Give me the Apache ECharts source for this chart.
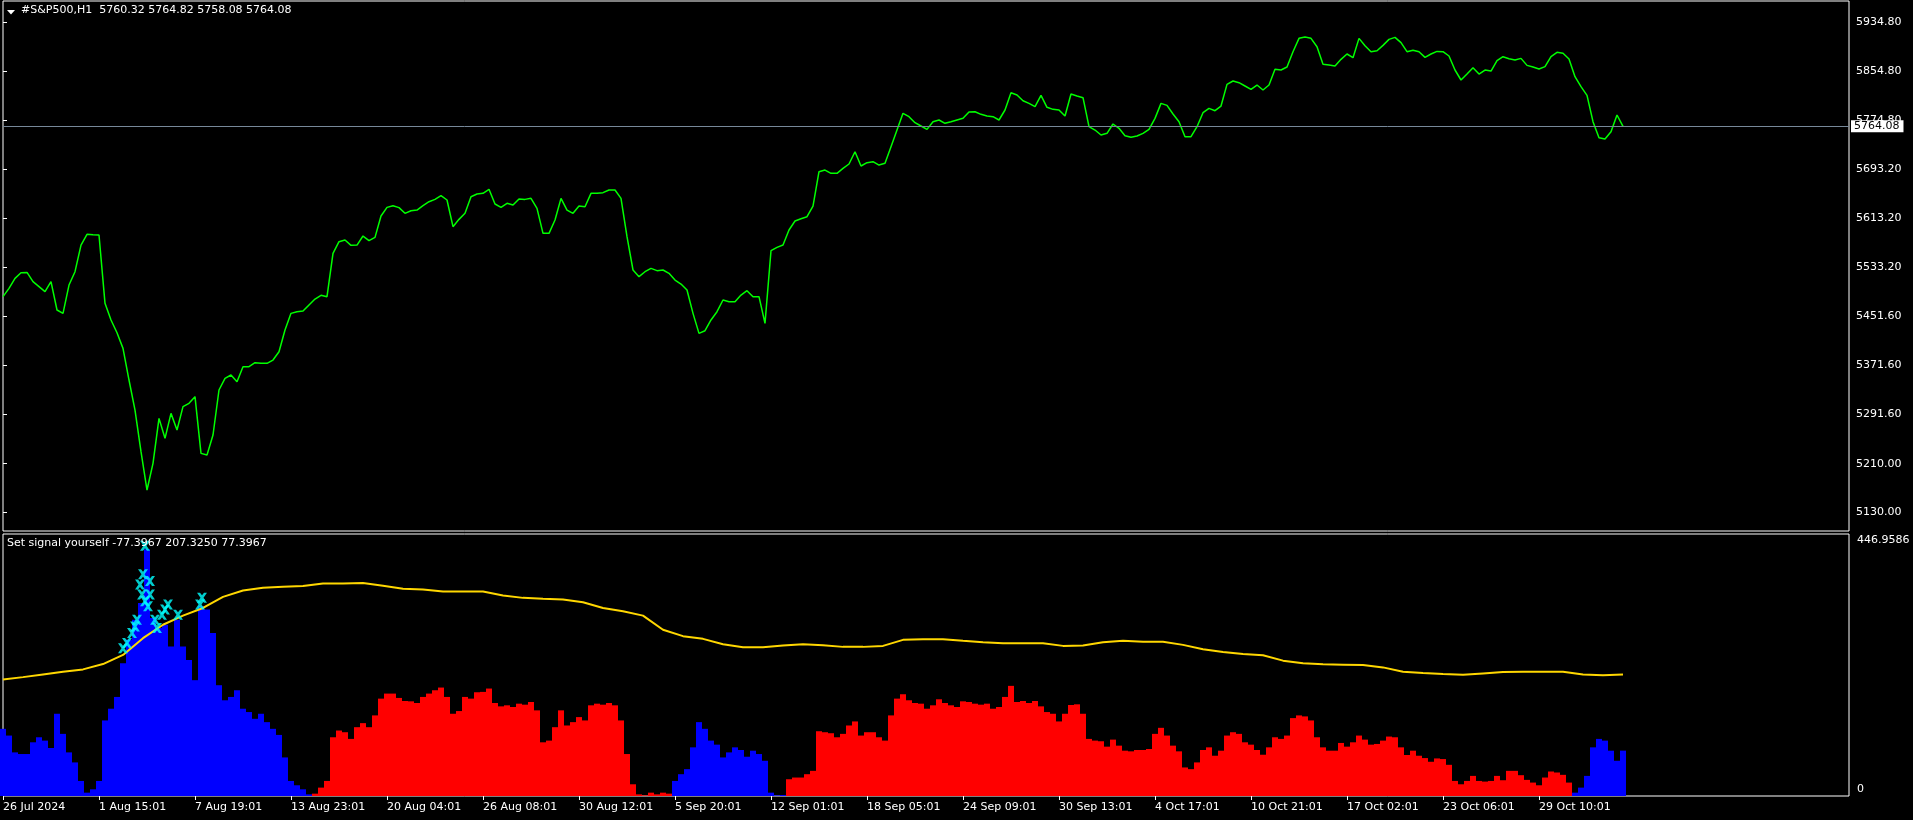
<!DOCTYPE html>
<html><head><meta charset="utf-8">
<script src="https://cdn.jsdelivr.net/npm/echarts@6/dist/echarts.min.js"></script>
<style>html,body{margin:0;padding:0;background:#000;overflow:hidden}#chart{width:1913px;height:820px;}</style>
</head><body><div id="chart"></div><script>
// ---------- DATA ----------
const symbolName = '#S&P500,H1';
const lastBarOHLC = [5760.32, 5764.82, 5758.08, 5764.08];
const indicatorName = 'Set signal yourself';
const indicatorValues = [-77.3967, 207.3250, 77.3967];
const priceTicks = [5130.00, 5210.00, 5291.60, 5371.60, 5451.60, 5533.20, 5613.20, 5693.20, 5774.80, 5854.80, 5934.80];
const indicatorTicks = [0, 446.9586];
const timeLabels = ['26 Jul 2024','1 Aug 15:01','7 Aug 19:01','13 Aug 23:01','20 Aug 04:01','26 Aug 08:01','30 Aug 12:01','5 Sep 20:01','12 Sep 01:01','18 Sep 05:01','24 Sep 09:01','30 Sep 13:01','4 Oct 17:01','10 Oct 21:01','17 Oct 02:01','23 Oct 06:01','29 Oct 10:01'];
const BARS_PER_LABEL = 96;   // H1 bars between time labels
const TOTAL_BARS = 1846;     // bars that fit the window
const SAMPLE_STEP = 6;       // bars per sampled value (price & histogram)

const priceValues = [
5484.3,5498.0,5514.4,5523.7,5524.2,5508.9,5500.7,5492.5,5508.9,5462.4,
5456.9,5503.4,5525.3,5569.1,5586.7,5586.1,5585.6,5473.3,5446.0,5425.1,
5399.4,5347.4,5298.1,5229.7,5166.7,5210.5,5284.4,5251.6,5292.6,5265.3,
5303.6,5309.1,5320.0,5226.9,5224.2,5257.1,5331.0,5350.1,5355.6,5344.7,
5369.3,5369.3,5375.9,5374.8,5374.8,5380.2,5393.9,5429.5,5456.9,5459.6,
5460.7,5470.6,5480.4,5486.5,5484.3,5555.4,5574.6,5577.3,5568.6,5569.1,
5583.9,5576.3,5581.7,5616.8,5631.0,5633.7,5630.5,5621.2,5625.5,5626.6,
5633.7,5640.3,5644.1,5650.2,5643.1,5599.3,5611.3,5621.2,5648.5,5652.9,
5654.0,5660.6,5636.5,5631.0,5637.6,5634.8,5644.7,5644.1,5645.8,5629.4,
5588.3,5588.3,5610.2,5645.8,5626.6,5621.2,5633.2,5632.1,5654.0,5654.0,
5655.1,5659.5,5659.5,5645.8,5582.8,5528.1,5517.1,5525.3,5530.8,5527.0,
5528.1,5522.6,5511.6,5505.1,5495.2,5456.9,5424.0,5428.4,5446.0,5459.6,
5478.8,5476.1,5476.1,5487.0,5494.1,5484.3,5484.3,5440.5,5559.8,5565.3,
5569.1,5593.8,5608.6,5612.4,5615.7,5633.2,5689.6,5692.3,5686.9,5686.9,
5695.1,5702.2,5722.4,5698.9,5704.4,5706.0,5700.5,5703.3,5730.6,5758.0,
5785.4,5779.9,5770.1,5764.6,5759.1,5771.7,5774.5,5769.0,5771.7,5774.5,
5777.2,5787.6,5788.1,5783.8,5781.0,5779.9,5774.5,5790.9,5819.3,5815.5,
5806.2,5801.8,5796.4,5815.0,5795.3,5792.0,5790.9,5781.0,5817.2,5813.9,
5811.1,5763.5,5758.0,5749.8,5752.6,5767.9,5760.8,5748.7,5746.0,5748.2,
5752.6,5759.1,5777.2,5801.8,5798.5,5784.3,5771.7,5747.1,5747.1,5763.5,
5786.5,5793.6,5789.8,5797.4,5833.0,5838.5,5835.8,5830.3,5824.8,5831.9,
5823.7,5831.9,5857.7,5856.6,5861.5,5886.7,5908.6,5910.8,5908.6,5894.9,
5865.9,5864.8,5863.1,5874.1,5882.9,5876.8,5908.6,5896.5,5886.7,5888.3,
5897.1,5906.9,5910.2,5901.5,5886.7,5888.9,5886.7,5877.4,5882.9,5887.2,
5886.7,5879.6,5856.6,5840.2,5850.0,5860.4,5850.0,5856.6,5854.9,5871.9,
5878.5,5875.2,5873.0,5875.7,5864.2,5861.5,5858.2,5862.1,5878.5,5885.6,
5884.0,5874.6,5845.6,5829.2,5815.0,5771.7,5745.4,5743.2,5755.3,5782.7,
5764.08];

const histValues = [
114.6,103.1,74.4,71.6,71.6,91.6,100.2,94.5,81.9,140.3,
106.0,74.4,57.3,25.7,5.7,11.4,25.7,128.9,148.9,169.0,
226.3,266.4,300.8,329.4,421.1,303.6,286.5,292.2,254.9,300.8,
254.9,232.0,197.6,323.7,318.0,277.9,189.0,163.3,169.0,180.4,
148.9,143.2,131.7,140.3,126.0,114.6,104.2,65.8,25.7,18.3,
11.4,2.8,4.0,14.3,25.7,100.2,111.7,108.8,97.4,117.4,
124.3,117.4,137.5,166.1,174.7,174.7,167.3,162.1,161.5,158.7,
169.0,174.7,180.4,185.0,169.0,140.3,144.9,169.0,166.1,177.0,
177.6,183.3,158.7,152.9,154.7,151.8,157.5,155.8,160.4,146.1,
91.6,94.5,117.4,146.1,120.3,126.0,134.6,128.9,154.7,157.5,
155.8,158.7,154.7,128.9,71.6,20.0,2.8,1.1,5.7,2.8,
5.7,4.0,25.7,37.2,45.8,83.0,126.0,114.6,94.5,87.6,
65.8,74.4,83.0,78.5,67.0,77.3,71.6,60.1,5.7,1.1,
1.7,28.6,31.5,31.5,37.2,42.9,110.5,108.8,107.1,100.2,
106.0,120.3,127.2,103.1,108.8,108.8,100.2,94.5,137.5,166.1,
173.6,163.3,158.7,157.5,148.9,154.7,165.0,158.7,154.7,151.8,
161.5,160.4,157.5,155.8,157.5,148.9,151.8,169.0,187.9,160.4,
162.1,158.7,162.1,152.9,143.2,140.3,127.2,140.3,155.2,156.4,
140.3,97.4,94.5,93.4,84.2,96.2,85.9,77.3,76.2,78.5,
78.5,80.2,106.0,116.3,103.1,85.9,76.2,48.7,45.8,57.3,
78.5,83.0,68.7,77.3,103.1,108.8,106.0,91.6,87.6,78.5,
70.4,83.0,100.2,97.4,103.1,132.9,137.5,135.8,128.9,100.2,
83.0,77.3,77.3,90.5,84.2,91.6,103.1,96.2,87.6,88.8,
94.5,101.4,100.2,83.0,69.9,77.3,68.7,64.7,58.4,64.1,
63.0,53.2,25.7,20.0,25.7,34.3,25.7,24.6,25.7,34.3,
26.9,42.9,42.9,35.5,27.5,22.9,18.3,31.5,41.8,40.1,
36.1,22.9,5.7,14.3,34.3,83.0,97.4,94.5,77.3,60.1,
77.4];
// bar ranges where the histogram is blue (elsewhere red)
const blueRanges = [[0, 306], [672, 780], [1572, 1620]];

const SIGNAL_STEP = 20; // bars per sampled value of the yellow line
const signalLineValues = [
198.8,202.8,207.4,212.0,216.0,225.1,240.6,269.3,292.2,307.7,
320.8,339.7,350.6,355.2,356.9,358.1,362.7,362.7,363.2,358.7,
353.5,352.3,348.9,348.9,348.9,342.0,338.0,336.3,335.2,330.6,
320.8,315.1,307.7,283.6,272.7,268.1,259.0,253.8,253.8,256.7,
259.0,257.2,254.4,254.4,256.1,266.4,267.5,267.5,264.7,262.4,
260.7,260.7,260.7,256.1,256.7,262.4,264.7,263.0,263.0,257.8,
250.4,245.8,242.3,240.0,230.9,226.3,224.6,224.0,223.4,219.4,
212.0,209.7,208.0,206.8,209.1,211.4,212.0,212.0,212.0,207.4,
206.2,207.3];

const crossBars   = [142, 140, 147, 137, 139, 147, 142, 145, 165, 162, 159, 152, 175, 199, 197, 154, 134, 132, 129, 124, 120];
const crossValues = [426.8, 378.2, 366.7, 361.0, 343.8, 343.8, 332.3, 323.7, 326.6, 318.0, 309.4, 300.8, 309.4, 338.1, 326.6, 286.5, 300.8, 289.3, 277.9, 260.8, 252.2];

// ---------- BUILD ----------
const FONT = 'DejaVu Sans';
const WHITE = '#ffffff';
const pricePts = priceValues.map((v, i) => [i * SAMPLE_STEP, v]);
const isBlue = b => blueRanges.some(r => b >= r[0] && b <= r[1]);
const blueHist = [], redHist = [];
histValues.forEach((v, i) => { const b = i * SAMPLE_STEP; (isBlue(b) ? blueHist : redHist).push([b, v]); });
const signalPts = signalLineValues.map((v, i) => [i * SIGNAL_STEP, v]);
const crossPts = crossBars.map((b, i) => [b, crossValues[i]]);
const lastClose = lastBarOHLC[3];
const timeTickBars = timeLabels.map((_, k) => k * BARS_PER_LABEL);

const chart = echarts.init(document.getElementById('chart'), null, {renderer: 'canvas'});
const option = {
  backgroundColor: '#000000',
  animation: false,
  textStyle: {fontFamily: FONT},
  title: [
    {text: symbolName + '  ' + lastBarOHLC.map(v => v.toFixed(2)).join(' '), left: 21, top: 5, padding: 0,
     textStyle: {color: WHITE, fontSize: 11, fontWeight: 'normal', fontFamily: FONT}},
    {text: indicatorName + ' ' + indicatorValues.map(v => v.toFixed(4)).join(' '), left: 7, top: 538, padding: 0,
     textStyle: {color: WHITE, fontSize: 11, fontWeight: 'normal', fontFamily: FONT}}
  ],
  graphic: [{type: 'polygon', shape: {points: [[7, 10], [15, 10], [11, 14.5]]}, style: {fill: WHITE}}],
  grid: [
    {left: 3, top: 1, width: TOTAL_BARS, height: 530, show: true, borderColor: WHITE, borderWidth: 1},
    {left: 3, top: 534, width: TOTAL_BARS, height: 262, show: true, borderColor: WHITE, borderWidth: 1}
  ],
  xAxis: [
    {type: 'value', gridIndex: 0, min: 0, max: TOTAL_BARS, show: false},
    {type: 'value', gridIndex: 1, min: 0, max: TOTAL_BARS,
     axisLine: {show: false}, splitLine: {show: false},
     axisTick: {show: true, length: 4, lineStyle: {color: WHITE}, customValues: timeTickBars},
     axisLabel: {color: WHITE, fontSize: 11, fontFamily: FONT, align: 'left', margin: 6,
       customValues: timeTickBars,
       formatter: v => timeLabels[Math.round(v / BARS_PER_LABEL)] || ''}}
  ],
  yAxis: [
    {type: 'value', gridIndex: 0, position: 'right', min: 5099.4, max: 5969.95,
     splitLine: {show: false}, axisLine: {show: false},
     axisTick: {show: true, length: 4, lineStyle: {color: WHITE}, customValues: priceTicks},
     axisLabel: {color: WHITE, fontSize: 11, fontFamily: FONT, margin: 7, customValues: priceTicks,
       formatter: v => v.toFixed(2)}},
    {type: 'value', gridIndex: 1, position: 'right', min: 0, max: indicatorTicks[1],
     splitLine: {show: false}, axisLine: {show: false}, axisTick: {show: false},
     axisLabel: {color: WHITE, fontSize: 11, fontFamily: FONT, margin: 8, customValues: indicatorTicks,
       formatter: v => v === 0 ? '{lo|' + String(v) + '}' : '{hi|' + v.toFixed(4) + '}',
       rich: {
         hi: {color: WHITE, fontSize: 11, fontFamily: FONT, padding: [13, 0, 0, 0]},
         lo: {color: WHITE, fontSize: 11, fontFamily: FONT, padding: [0, 0, 13, 0]}
       }}}
  ],
  series: [
    {type: 'line', name: 'price', xAxisIndex: 0, yAxisIndex: 0, data: pricePts, showSymbol: false,
     lineStyle: {color: '#00ff00', width: 1.5}, itemStyle: {color: '#00ff00'},
     markLine: {silent: true, symbol: ['none', 'none'], data: [{yAxis: lastClose}],
       lineStyle: {color: '#778899', width: 1, type: 'solid'},
       label: {show: true, position: 'end', distance: 2, formatter: lastClose.toFixed(2), color: '#000',
         backgroundColor: WHITE, padding: [1, 4, 0, 3], fontSize: 11, fontFamily: FONT}}},
    {type: 'bar', name: 'up', xAxisIndex: 1, yAxisIndex: 1, data: blueHist, barWidth: SAMPLE_STEP, barGap: '-100%',
     itemStyle: {color: '#0000ff'}},
    {type: 'bar', name: 'down', xAxisIndex: 1, yAxisIndex: 1, data: redHist, barWidth: SAMPLE_STEP, barGap: '-100%',
     itemStyle: {color: '#ff0000'}},
    {type: 'line', name: 'signal', xAxisIndex: 1, yAxisIndex: 1, data: signalPts, showSymbol: false, z: 4,
     lineStyle: {color: '#ffd700', width: 2}, itemStyle: {color: '#ffd700'}},
    {type: 'scatter', name: 'cross', xAxisIndex: 1, yAxisIndex: 1, data: crossPts, z: 5,
     symbol: 'path://M0,0L3,0L5,2.5L7,0L10,0L6.5,5L10,10L7,10L5,7.5L3,10L0,10L3.5,5Z', symbolSize: 10,
     itemStyle: {color: '#00ffff'}}
  ]
};
chart.setOption(option);
</script></body></html>
